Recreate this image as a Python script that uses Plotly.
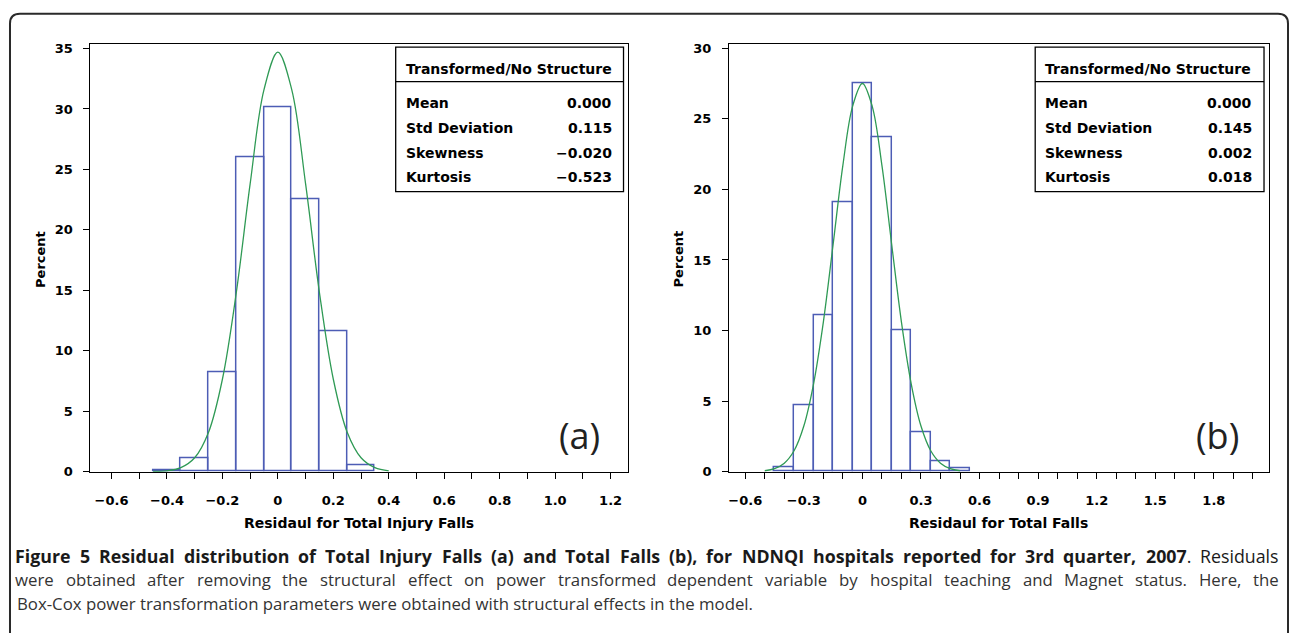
import plotly.graph_objects as go

# ---------------- data ----------------
bins_a = [-0.4, -0.3, -0.2, -0.1, 0.0, 0.1, 0.2, 0.3]
pct_a = [0.15, 1.1, 8.2, 26.0, 30.1, 22.5, 11.6, 0.5]
curve_x_a = [-0.45, -0.40, -0.35, -0.30, -0.25, -0.20, -0.15, -0.10, -0.05, 0.0,
             0.05, 0.10, 0.15, 0.20, 0.25, 0.30, 0.35, 0.40]
curve_y_a = [0.02, 0.08, 0.34, 1.16, 3.27, 7.65, 14.8, 23.8, 31.6, 34.7,
             31.6, 23.8, 14.8, 7.65, 3.27, 1.16, 0.34, 0.08]

bins_b = [-0.4, -0.3, -0.2, -0.1, 0.0, 0.1, 0.2, 0.3, 0.4, 0.5]
pct_b = [0.35, 4.7, 11.1, 19.1, 27.5, 23.7, 10.05, 2.8, 0.75, 0.25]
curve_x_b = [-0.50, -0.45, -0.40, -0.35, -0.30, -0.25, -0.20, -0.15, -0.10, -0.05, 0.0,
             0.05, 0.10, 0.15, 0.20, 0.25, 0.30, 0.35, 0.40, 0.45, 0.50]
curve_y_b = [0.07, 0.22, 0.61, 1.49, 3.24, 6.23, 10.6, 16.1, 21.7, 25.9, 27.5,
             25.9, 21.7, 16.1, 10.6, 6.23, 3.24, 1.49, 0.61, 0.22, 0.07]

xtick_vals_a = [-0.6, -0.4, -0.2, 0.0, 0.2, 0.4, 0.6, 0.8, 1.0, 1.2]
xtick_text_a = ["\u22120.6", "\u22120.4", "\u22120.2", "0", "0.2", "0.4", "0.6", "0.8", "1.0", "1.2"]
xtick_vals_b = [-0.6, -0.3, 0.0, 0.3, 0.6, 0.9, 1.2, 1.5, 1.8]
xtick_text_b = ["\u22120.6", "\u22120.3", "0", "0.3", "0.6", "0.9", "1.2", "1.5", "1.8"]
ytick_vals_a = [0, 5, 10, 15, 20, 25, 30, 35]
ytick_vals_b = [0, 5, 10, 15, 20, 25, 30]

stat_names = ["Mean", "Std Deviation", "Skewness", "Kurtosis"]
stat_vals_a = ["0.000", "0.115", "\u22120.020", "\u22120.523"]
stat_vals_b = ["0.000", "0.145", "0.002", "0.018"]
table_title = "Transformed/No Structure"

xtitle_a = "Residaul for Total Injury Falls"
xtitle_b = "Residaul for Total Falls"

caption_line1_bold = "Figure 5 Residual distribution of Total Injury Falls (a) and Total Falls (b), for NDNQI hospitals reported for 3rd quarter, 2007"
caption_line1_tail = ". Residuals"
caption_line2 = "were obtained after removing the structural effect on power transformed dependent variable by hospital teaching and Magnet status. Here, the"
caption_line3 = "Box-Cox power transformation parameters were obtained with structural effects in the model."

# ---------------- layout helpers ----------------
W, H = 1292, 636


def fx(p):
    return p / W


def fy(p):
    return 1 - p / H


BLUE = "#4d5db5"
GREEN = "#2f9a55"
FONT = "DejaVu Sans"
tickfont = dict(family=FONT, size=13, color="black", weight="bold")

fig = go.Figure()

fig.add_trace(go.Bar(x=bins_a, y=pct_a, width=0.1, xaxis="x", yaxis="y",
                     marker=dict(color="rgba(255,255,255,0)", line=dict(color=BLUE, width=1.5)),
                     showlegend=False, hoverinfo="x+y"))
fig.add_trace(go.Scatter(x=curve_x_a, y=curve_y_a, mode="lines", xaxis="x", yaxis="y",
                         line=dict(color=GREEN, width=1.3, shape="spline"), showlegend=False))
fig.add_trace(go.Bar(x=bins_b, y=pct_b, width=0.1, xaxis="x2", yaxis="y2",
                     marker=dict(color="rgba(255,255,255,0)", line=dict(color=BLUE, width=1.5)),
                     showlegend=False, hoverinfo="x+y"))
fig.add_trace(go.Scatter(x=curve_x_b, y=curve_y_b, mode="lines", xaxis="x2", yaxis="y2",
                         line=dict(color=GREEN, width=1.3, shape="spline"), showlegend=False))

common_x = dict(showline=True, linecolor="black", linewidth=1, mirror=True,
                ticks="outside", ticklen=6, tickcolor="black", tickwidth=1,
                showgrid=False, zeroline=False, tickfont=tickfont,
                tickmode="array", ticklabelstandoff=11,
                minor=dict(tickmode="linear", tick0=0, dtick=0.1, ticks="outside",
                           ticklen=6, tickcolor="black", tickwidth=1, showgrid=False))
common_y = dict(showline=True, linecolor="black", linewidth=1, mirror=True,
                ticks="outside", ticklen=6, tickcolor="black", tickwidth=1,
                showgrid=False, zeroline=False, tickfont=tickfont,
                tickmode="array", ticklabelstandoff=8)

y_dom = [fy(477), fy(42)]
fig.update_layout(
    width=W, height=H, margin=dict(l=0, r=0, t=0, b=0),
    paper_bgcolor="white", plot_bgcolor="white", bargap=0, barmode="overlay",
    xaxis=dict(domain=[fx(89.5), fx(627)], range=[-0.676, 1.261],
               tickvals=xtick_vals_a, ticktext=xtick_text_a, anchor="y", **common_x),
    yaxis=dict(domain=y_dom, range=[0, 35.35], tickvals=ytick_vals_a, anchor="x", **common_y),
    xaxis2=dict(domain=[fx(728.6), fx(1268.7)], range=[-0.683, 2.081],
                tickvals=xtick_vals_b, ticktext=xtick_text_b, anchor="y2", **common_x),
    yaxis2=dict(domain=y_dom, range=[0, 30.28], tickvals=ytick_vals_b, anchor="x2", **common_y),
)

shapes = []
annotations = []

# outer rounded frame
r = 10
x0, y0, x1 = 9, 11, 1288
path = (f"M {fx(x0)},{fy(H + 5)} L {fx(x0)},{fy(y0 + r)} "
        f"Q {fx(x0)},{fy(y0)} {fx(x0 + r)},{fy(y0)} "
        f"L {fx(x1 - r)},{fy(y0)} Q {fx(x1)},{fy(y0)} {fx(x1)},{fy(y0 + r)} "
        f"L {fx(x1)},{fy(H + 5)}")
shapes.append(dict(type="path", path=path, xref="paper", yref="paper",
                   line=dict(color="#2a2a2a", width=2)))

bold = dict(family=FONT, size=14, color="black", weight="bold")
row_y = [101.7, 127.3, 152.3, 176.7]

for (tb_l, tb_r), vals in [((395, 623), stat_vals_a), ((1035, 1264), stat_vals_b)]:
    shapes.append(dict(type="rect", xref="paper", yref="paper",
                       x0=fx(tb_l), x1=fx(tb_r), y0=fy(192), y1=fy(45),
                       line=dict(color="black", width=1.3), fillcolor="white"))
    shapes.append(dict(type="line", xref="paper", yref="paper",
                       x0=fx(tb_l), x1=fx(tb_r), y0=fy(80), y1=fy(80),
                       line=dict(color="black", width=1.3)))
    annotations.append(dict(text=table_title, x=fx(tb_l + 8), y=fy(67.5), xref="paper", yref="paper",
                            xanchor="left", yanchor="middle", showarrow=False, font=bold))
    for name, v, ry in zip(stat_names, vals, row_y):
        annotations.append(dict(text=name, x=fx(tb_l + 8), y=fy(ry), xref="paper", yref="paper",
                                xanchor="left", yanchor="middle", showarrow=False, font=bold))
        annotations.append(dict(text=v, x=fx(tb_r - 10), y=fy(ry), xref="paper", yref="paper",
                                xanchor="right", yanchor="middle", showarrow=False, font=bold))

# axis titles
for px_ in (40, 679):
    annotations.append(dict(text="Percent", x=fx(px_), y=fy(260.5), xref="paper", yref="paper",
                            xanchor="center", yanchor="middle", textangle=-90, showarrow=False,
                            font=dict(family=FONT, size=13, color="black", weight="bold")))
annotations.append(dict(text=xtitle_a, x=fx(358), y=fy(529), xref="paper", yref="paper",
                        xanchor="center", yanchor="middle", showarrow=False, font=bold))
annotations.append(dict(text=xtitle_b, x=fx(998.6), y=fy(529), xref="paper", yref="paper",
                        xanchor="center", yanchor="middle", showarrow=False, font=bold))

# panel labels
for lab, px_ in (("(a)", 578.5), ("(b)", 1217.5)):
    annotations.append(dict(text=lab, x=fx(px_), y=fy(440), xref="paper", yref="paper",
                            xanchor="center", yanchor="middle", showarrow=False,
                            font=dict(family="Open Sans", size=36, color="#222222")))

# ---------------- caption: justified text emulated word by word ----------------
REG_W = {" ": .26, "(": .297, ")": .297, ",": .246, "-": .322, ".": .266,
         "A": .633, "B": .648, "C": .631, "D": .729, "E": .556, "F": .516, "G": .728, "H": .738,
         "I": .279, "M": .903, "N": .754, "Q": .779, "R": .618, "S": .549, "T": .553,
         "a": .556, "b": .613, "c": .476, "d": .613, "e": .561, "f": .339, "g": .548, "h": .614,
         "i": .253, "j": .253, "k": .525, "l": .253, "m": .930, "n": .614, "o": .604, "p": .613,
         "q": .613, "r": .408, "s": .477, "t": .353, "u": .614, "v": .501, "w": .778, "x": .524,
         "y": .502, "z": .477}
BOLD_W = {" ": .26, "(": .33, ")": .33, ",": .28, ".": .28, "-": .33,
          "F": .575, "R": .666, "T": .573, "I": .331, "N": .812, "D": .742, "Q": .785,
          "a": .586, "b": .625, "c": .514, "d": .625, "e": .594, "f": .373, "g": .561, "h": .655,
          "i": .301, "j": .301, "k": .616, "l": .301, "m": .966, "n": .655, "o": .615, "p": .625,
          "q": .625, "r": .446, "s": .510, "t": .419, "u": .655, "v": .575, "w": .856, "x": .588,
          "y": .575, "z": .500}
CAP_SIZE = 16.8
BOLD_SIZE = 17.8
CAP_L, CAP_R = 14, 1279


def word_width(word, is_bold, size):
    tbl = BOLD_W if is_bold else REG_W
    return sum(tbl.get(c, .572) for c in word) * size


def place_line(tokens, y, size, color):
    # tokens: list of (display_html, plain_text, is_bold); justified between CAP_L and CAP_R
    widths = [word_width(p, b, size) for _, p, b in tokens]
    gap = (CAP_R - CAP_L - sum(widths)) / (len(tokens) - 1)
    pos = CAP_L
    for (html, _, _), w in zip(tokens, widths):
        annotations.append(dict(text=html, x=fx(pos + w / 2), y=fy(y), xref="paper", yref="paper",
                                xanchor="center", yanchor="middle", showarrow=False,
                                font=dict(family="Open Sans", size=size, color=color)))
        pos += w + gap


bold_words = caption_line1_bold.split(" ")
tail_punct, tail_word = caption_line1_tail.split(" ")
tokens1 = [(f"<b>{w}</b>", w, True) for w in bold_words[:-1]]
tokens1.append((f"<b>{bold_words[-1]}</b>{tail_punct}", bold_words[-1] + tail_punct, True))
tokens1.append((tail_word, tail_word, False))
place_line(tokens1, 563, BOLD_SIZE, "#1a1a1a")
place_line([(w, w, False) for w in caption_line2.split(" ")], 587, CAP_SIZE, "#333333")
annotations.append(dict(text=caption_line3, x=fx(CAP_L), y=fy(611), xref="paper", yref="paper",
                        xanchor="left", yanchor="middle", showarrow=False,
                        font=dict(family="Open Sans", size=CAP_SIZE, color="#333333")))

fig.update_layout(shapes=shapes, annotations=annotations)
fig.write_html("out.html")
